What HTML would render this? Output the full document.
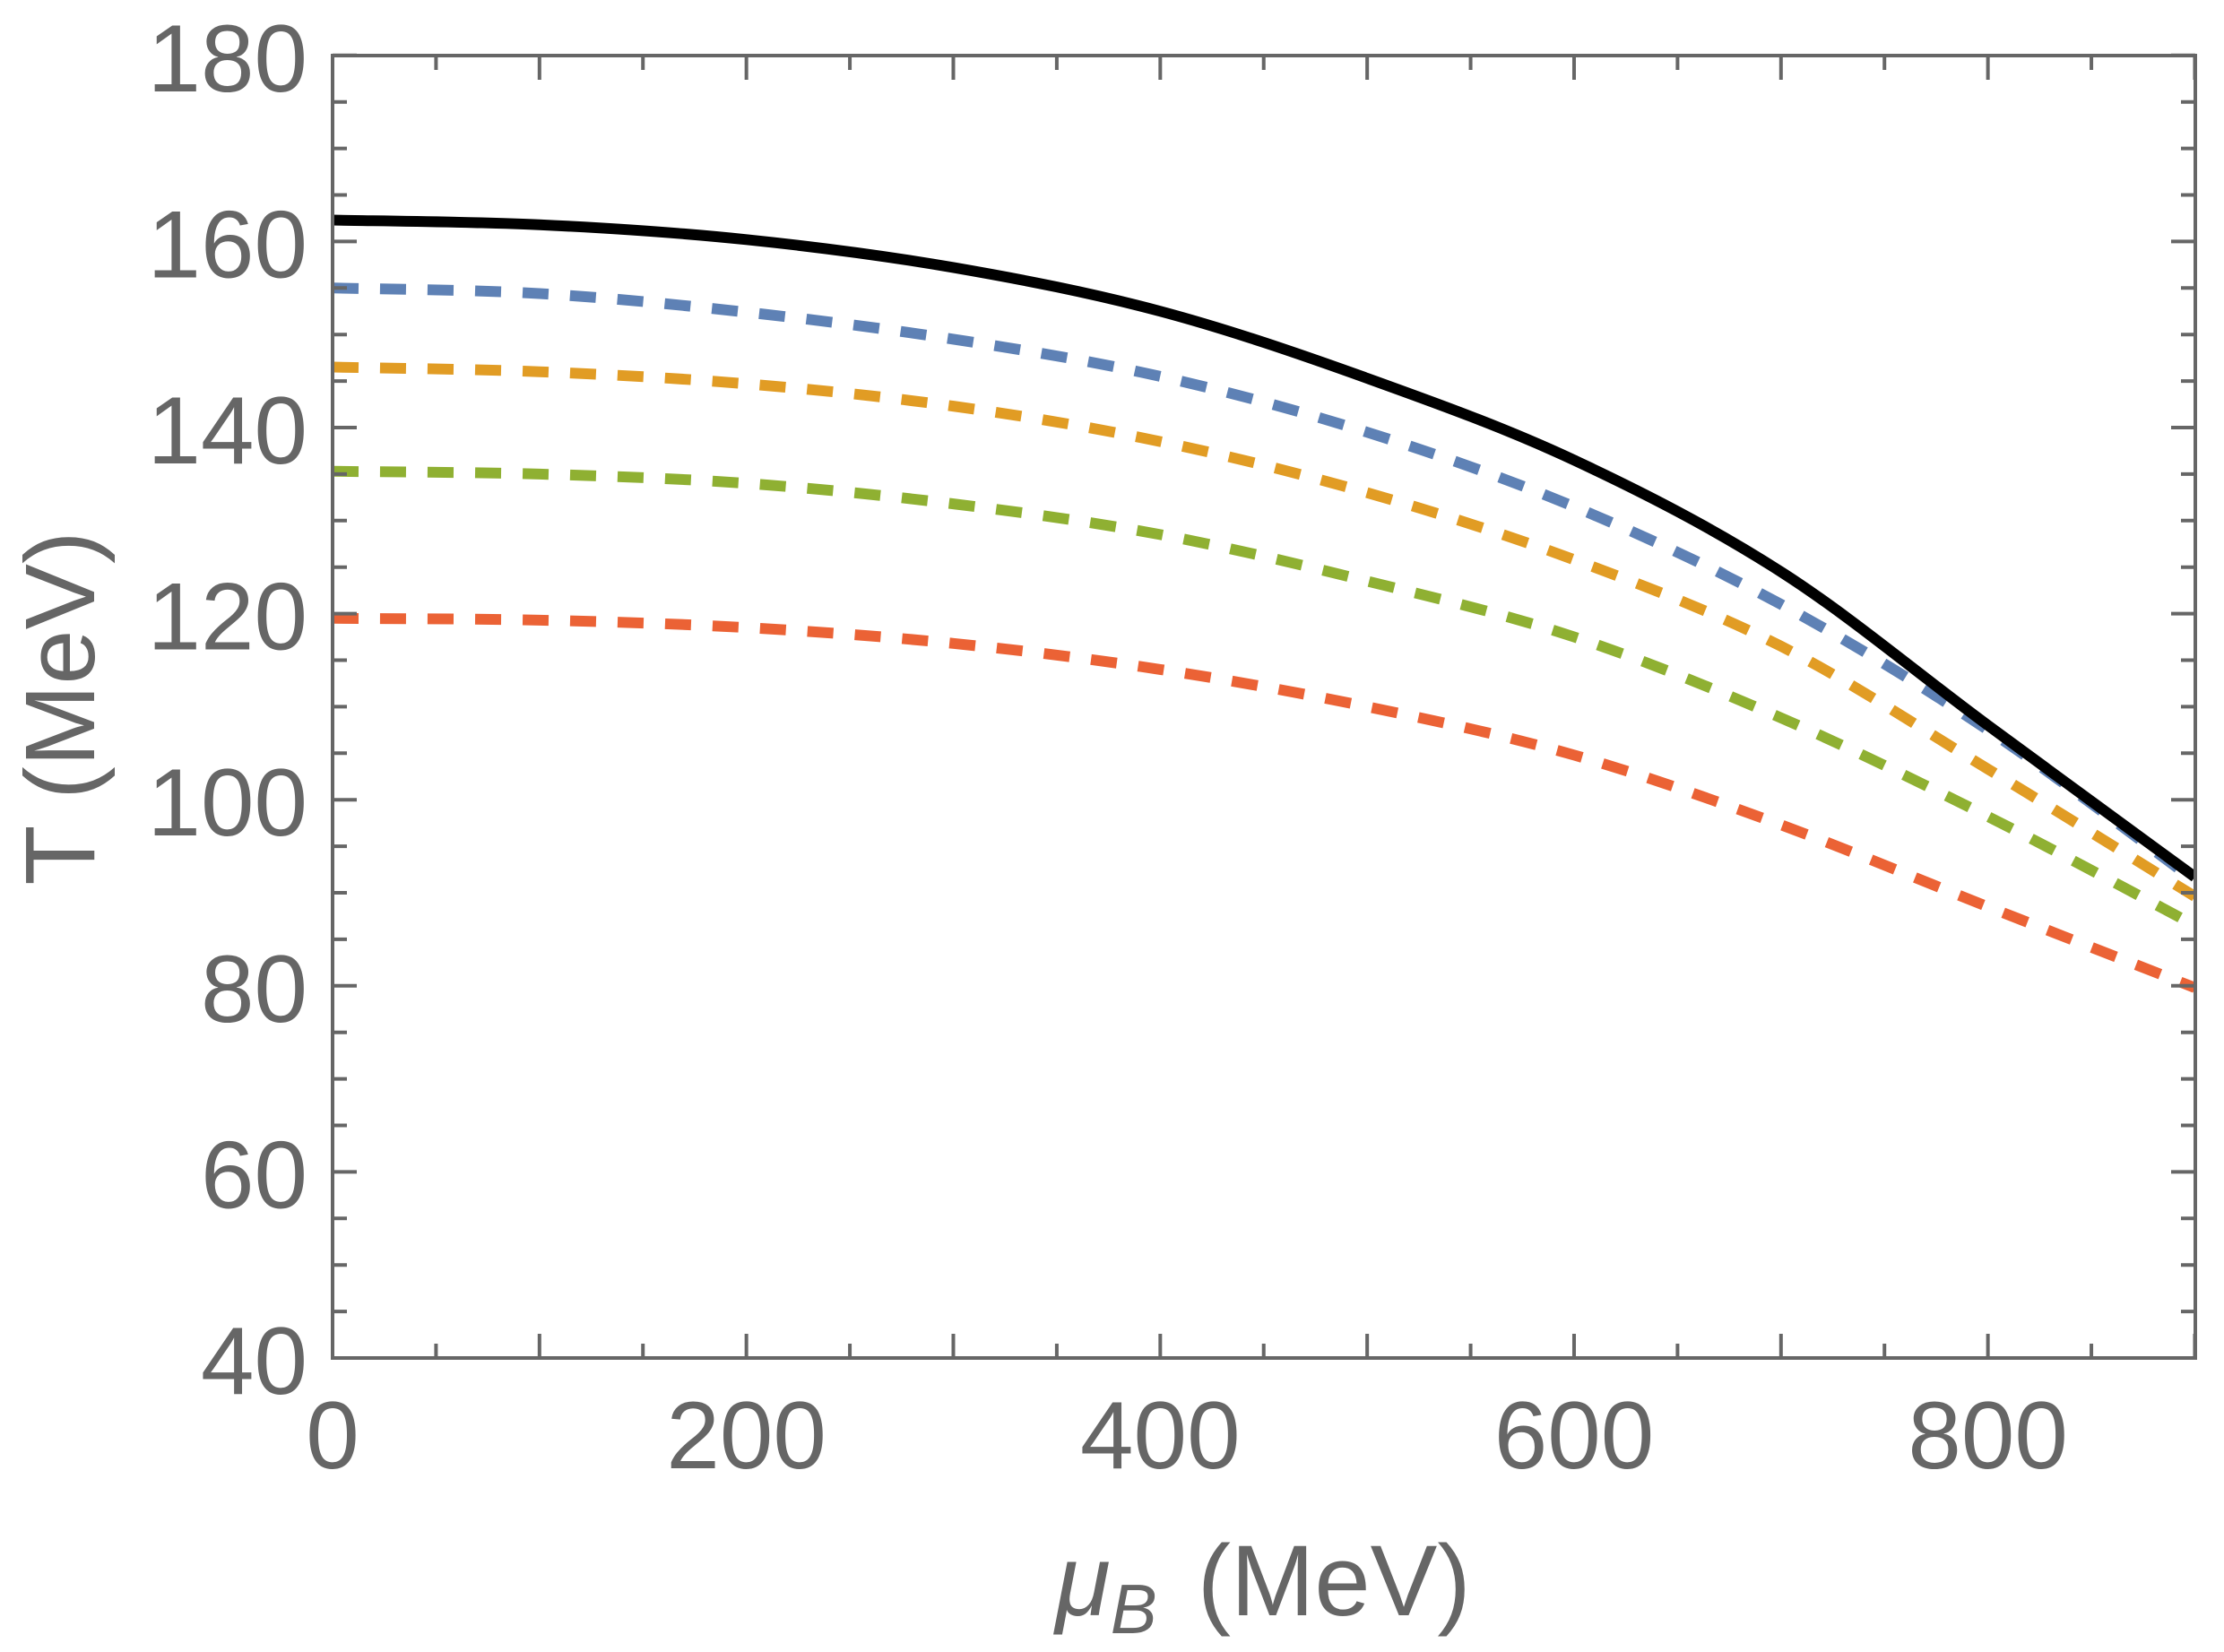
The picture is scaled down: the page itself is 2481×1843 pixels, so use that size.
<!DOCTYPE html>
<html><head><meta charset="utf-8"><style>
html,body{margin:0;padding:0;background:#fff;}
svg{display:block;}
text{font-family:"Liberation Sans",sans-serif;fill:#666;}
</style></head><body>
<svg id="s" width="2481" height="1843" viewBox="0 0 2481 1843" xmlns="http://www.w3.org/2000/svg">
<defs><clipPath id="c"><rect x="371" y="62" width="2078" height="1453"/></clipPath></defs>
<g id="curves" clip-path="url(#c)"></g>
<g id="axes" stroke="#666" stroke-width="4" fill="none"></g>
<g id="labels" font-size="107"></g>
<text x="105" y="790" font-size="110" text-anchor="middle" transform="rotate(-90 105 790)">T (MeV)</text>
<text x="1409" y="1802" font-size="112" text-anchor="middle"><tspan font-style="italic">μ</tspan><tspan font-style="italic" font-size="78" dy="20">B</tspan><tspan dy="-20" dx="45">(MeV)</tspan></text>
</svg>
<script>
const NS="http://www.w3.org/2000/svg";
const X=m=>371+m*2.3083, Y=t=>1515-(t-40)*10.38;
function el(n,a,p){const e=document.createElementNS(NS,n);for(const k in a)e.setAttribute(k,a[k]);p.appendChild(e);return e;}
const ax=document.getElementById('axes'), lb=document.getElementById('labels');
el('rect',{x:371,y:62,width:2078,height:1453},ax);
let d='';
for(let m=0;m<=900;m+=50){const x=X(m),L=(m%100==0)?27:16;d+=`M${x} 1515v${-L}M${x} 62v${L}`;
 if(m%200==0){const t=el('text',{x:x,y:1638,'text-anchor':'middle'},lb);t.textContent=m;}}
for(let T=40;T<=180;T+=5){const y=Y(T),L=(T%20==0)?27:16;d+=`M371 ${y}h${L}M2449 ${y}h${-L}`;
 if(T%20==0){const t=el('text',{x:343,y:y+40,'text-anchor':'end'},lb);t.textContent=T;}}
el('path',{d:d},ax);
const M=[0,100,200,300,400,500,600,700,800,900];
const series=[
 ['#EB6235',true,[119.5,119.3,118.5,116.8,114,110,104.8,97.3,88.5,79.8]],
 ['#8FB032',true,[135.3,135,134,131.8,128.5,123.5,117.5,108.8,98.2,86.5]],
 ['#E19C24',true,[146.5,146,144.7,142.3,138.5,133,125.8,116.5,103.3,89.6]],
 ['#5E81B5',true,[155,154.4,152.4,149.5,145.5,139.5,131.5,121,107.5,91.3]],
 ['#000',false,[162.3,161.8,160.2,157.2,152.5,145.3,136.5,124.5,108,91.7]]
];
const cg=document.getElementById('curves');
for(const [col,dash,ts] of series){
 const P=ts.map((t,i)=>[X(M[i]),Y(t)]);
 let s=`M${P[0][0]} ${P[0][1]}`;
 for(let i=0;i<P.length-1;i++){
  const p0=P[Math.max(0,i-1)],p1=P[i],p2=P[i+1],p3=P[Math.min(P.length-1,i+2)];
  const c1=[p1[0]+(p2[0]-p0[0])/6,p1[1]+(p2[1]-p0[1])/6],c2=[p2[0]-(p3[0]-p1[0])/6,p2[1]-(p3[1]-p1[1])/6];
  s+=`C${c1[0]} ${c1[1]} ${c2[0]} ${c2[1]} ${p2[0]} ${p2[1]}`;
 }
 const a={d:s,stroke:col,'stroke-width':12,fill:'none','stroke-linejoin':'round'};
 if(dash)a['stroke-dasharray']='29 24';
 el('path',a,cg);
}
</script>
</body></html>
